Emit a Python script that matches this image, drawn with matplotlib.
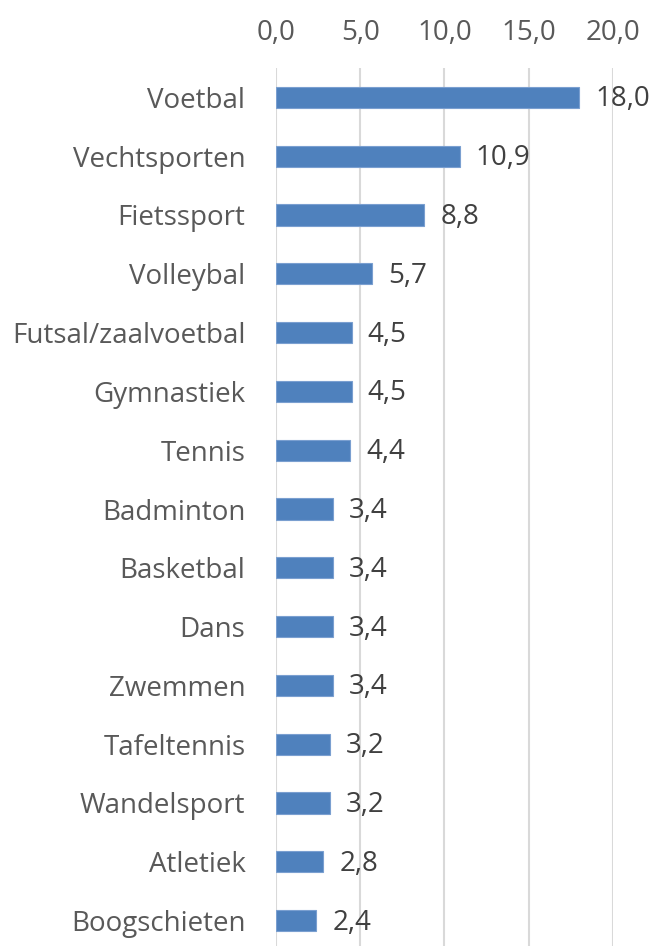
import matplotlib
matplotlib.use("Agg")
import matplotlib.pyplot as plt

categories = ["Voetbal", "Vechtsporten", "Fietssport", "Volleybal", "Futsal/zaalvoetbal",
              "Gymnastiek", "Tennis", "Badminton", "Basketbal", "Dans", "Zwemmen",
              "Tafeltennis", "Wandelsport", "Atletiek", "Boogschieten"]
values = [18.0, 10.9, 8.8, 5.7, 4.5, 4.5, 4.4, 3.4, 3.4, 3.4, 3.4, 3.2, 3.2, 2.8, 2.4]
xticks = [0, 5, 10, 15, 20]

def nl(v):
    return f"{v:.1f}".replace(".", ",")

plt.rcParams['font.family'] = ['Open Sans', 'DejaVu Sans']
W, H = 656, 946
fig = plt.figure(figsize=(W/100, H/100), dpi=100)
left, right = 276/W, 613/W
top, bottom = 1 - 68/H, 1 - 950/H
ax = fig.add_axes([left, bottom, right - left, top - bottom])

FS = 20
n = len(categories)
ypos = list(range(n))
ax.barh(ypos, values, height=0.36, color="#4F81BD", edgecolor="#7A9FD0", linewidth=0.8, zorder=3)
ax.set_ylim(n - 0.5, -0.5)
ax.set_xlim(0, 20)
ax.set_yticks(ypos)
ax.set_yticklabels(categories, fontsize=FS, color="#595959")
ax.set_xticks(xticks)
ax.set_xticklabels([nl(t) for t in xticks], fontsize=FS, color="#595959")
ax.xaxis.tick_top()
ax.tick_params(axis='both', length=0)
ax.tick_params(axis='y', pad=22)
ax.tick_params(axis='x', pad=15)
ax.grid(axis='x', color="#D9D9D9", linewidth=1.5, zorder=0)
for s in ax.spines.values():
    s.set_visible(False)

for y, v in zip(ypos, values):
    ax.annotate(nl(v), xy=(v, y), xytext=(16, -2), textcoords="offset pixels",
                ha="left", va="center", fontsize=FS, color="#404040")

fig.savefig("out.png", dpi=100)
